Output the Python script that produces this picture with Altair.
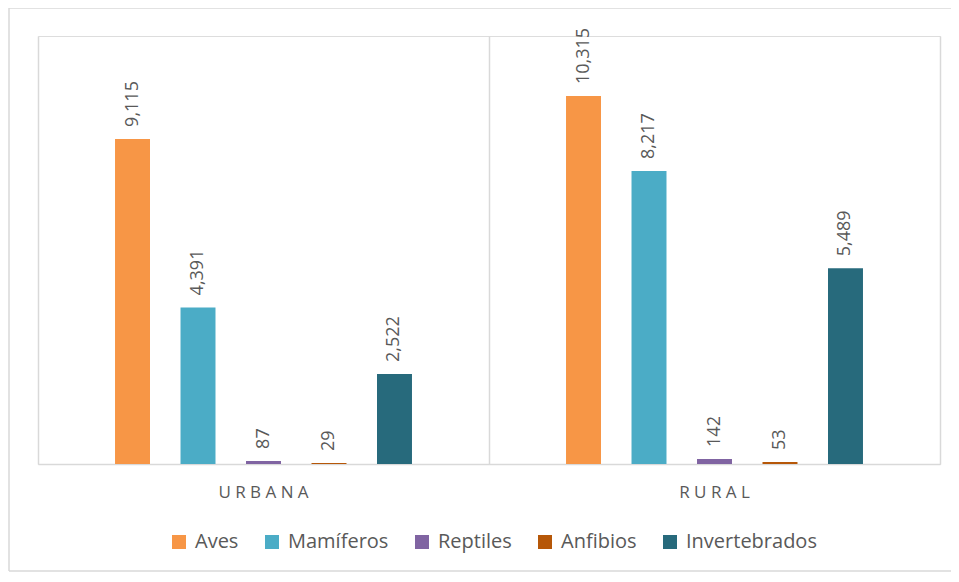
import altair as alt
import pandas as pd

groups = ["URBANA", "RURAL"]
series = ["Aves", "Mamíferos", "Reptiles", "Anfibios", "Invertebrados"]
urbana = [9115, 4391, 87, 29, 2522]
rural = [10315, 8217, 142, 53, 5489]
colors = ["#F79646", "#4BACC6", "#8064A2", "#B65708", "#276A7C"]

rows = []
for g, vals in zip(groups, [urbana, rural]):
    for s, v in zip(series, vals):
        rows.append({"grupo": g, "serie": s, "valor": v})
df = pd.DataFrame(rows)

W, H = 902, 428
FONT = "Open Sans"
GRAY = "#d9d9d9"
TXT = "#595959"

offset_domain = ["_ini"] + series + ["_fin"]

x_enc = alt.X("grupo:N", sort=groups,
              scale=alt.Scale(paddingInner=0, paddingOuter=0),
              axis=alt.Axis(title=None, ticks=False, domainColor=GRAY, domainWidth=1.5,
                            grid=True, gridColor=GRAY, gridWidth=1.5, bandPosition=0,
                            labelAngle=0, labelFont=FONT, labelFontSize=17, labelColor=TXT,
                            labelPadding=20,
                            labelExpr="join(split(datum.label, ''), ' ')"))
xo_enc = alt.XOffset("serie:N",
                     scale=alt.Scale(domain=offset_domain, paddingInner=0.466, paddingOuter=0.176))
y_enc = alt.Y("valor:Q", scale=alt.Scale(domain=[0, 12000], nice=False),
              axis=alt.Axis(orient="right", title=None, labels=False, ticks=False,
                            grid=False, domain=True, domainColor=GRAY, domainWidth=1.5))

base = alt.Chart(df)

bars = base.mark_bar().encode(
    x=x_enc, xOffset=xo_enc, y=y_enc,
    color=alt.Color("serie:N", sort=series,
                    scale=alt.Scale(domain=series, range=colors),
                    legend=alt.Legend(title=None, orient="none", legendX=131, legendY=496,
                                      direction="horizontal", columns=5,
                                      symbolType="square", symbolSize=196,
                                      symbolStrokeWidth=0, labelFont=FONT,
                                      labelFontSize=20, labelColor=TXT,
                                      columnPadding=23, labelOffset=6)),
)

labels = base.mark_text(angle=270, align="left", baseline="middle", dx=12,
                        font=FONT, fontSize=18, color=TXT).encode(
    x=alt.X("grupo:N", sort=groups), xOffset=alt.XOffset("serie:N"),
    y=alt.Y("valor:Q"),
    text=alt.Text("valor:Q", format=","),
)

one = pd.DataFrame({"f": [0]})
frame_top = alt.Chart(one).mark_rule(stroke=GRAY, strokeWidth=1.5).encode(
    x=alt.value(-29), x2=alt.value(W + 20), y=alt.value(-28))
frame_left = alt.Chart(one).mark_rule(stroke=GRAY, strokeWidth=1.5).encode(
    x=alt.value(-29), y=alt.value(-28), y2=alt.value(H + 107))
frame_bottom = alt.Chart(one).mark_rule(stroke=GRAY, strokeWidth=1.5).encode(
    x=alt.value(-29), x2=alt.value(W + 20), y=alt.value(H + 107))

chart = alt.layer(frame_top, frame_left, frame_bottom, bars, labels).properties(
    width=W, height=H,
    autosize=alt.AutoSizeParams(type="none"),
    padding={"left": 30, "top": 28, "right": 11, "bottom": 110},
).configure_view(stroke=None).configure(background="white")

chart.save("out.html", embed_options={"renderer": "svg", "actions": False})
